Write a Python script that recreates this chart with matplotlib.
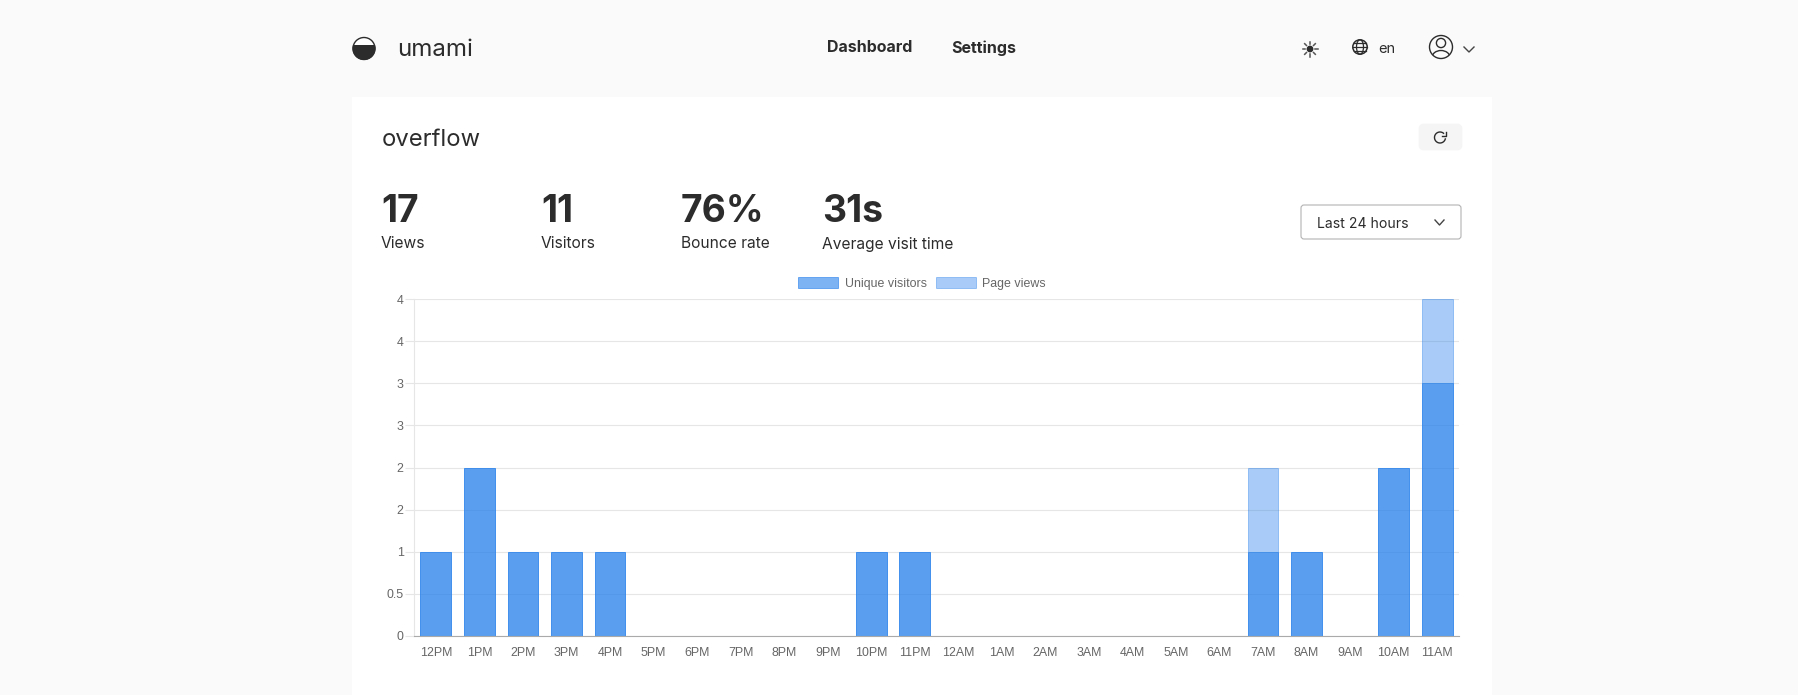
import matplotlib
matplotlib.use('Agg')
import matplotlib.pyplot as plt
from matplotlib.patches import Rectangle, FancyBboxPatch, Circle, Ellipse
import numpy as np

hours = ['12PM','1PM','2PM','3PM','4PM','5PM','6PM','7PM','8PM','9PM','10PM','11PM',
         '12AM','1AM','2AM','3AM','4AM','5AM','6AM','7AM','8AM','9AM','10AM','11AM']
page_views = [1,2,1,1,1,0,0,0,0,0,1,1,0,0,0,0,0,0,0,2,1,0,2,4]
unique_visitors = [1,2,1,1,1,0,0,0,0,0,1,1,0,0,0,0,0,0,0,1,1,0,2,3]
y_ticks = [0,0.5,1,1.5,2,2.5,3,3.5,4]
y_labels = ['0','0.5','1','2','2','3','3','4','4']

stat_values = ['17','11','76%','31s']
stat_names = ['Views','Visitors','Bounce rate','Average visit time']
stat_x = [381,541,681,822]

W, H = 1798, 695
DARK = '#2c2c2c'
plt.rcParams['font.family'] = ['Inter', 'DejaVu Sans']

fig = plt.figure(figsize=(W/100, H/100), dpi=100, facecolor='#fafafa')

# page furniture, drawn in pixel coordinates
bg = fig.add_axes([0,0,1,1])
bg.set_xlim(0,W)
bg.set_ylim(H,0)
bg.axis('off')
bg.add_patch(Rectangle((352,97),1140,598,fc='white',ec='none'))

# logo
bg.add_patch(Circle((364,48.5),11,fc='white',ec=DARK,lw=1))
half = Circle((364,48.5),11.5,fc=DARK,ec='none')
bg.add_patch(half)
half.set_clip_path(Rectangle((350,45),30,20,transform=bg.transData))
bg.text(397,49.5,'umami',fontsize=17.3,color=DARK,va='center')

bg.text(827,48,'Dashboard',fontsize=11.5,fontweight='bold',color=DARK,va='center')
bg.text(951,48,'Settings',fontsize=11.5,fontweight='bold',color=DARK,va='center')

# sun
bg.add_patch(Circle((1310,49),3.4,fc=DARK,ec='none'))
for a in np.arange(0,360,45):
    c, s = np.cos(np.radians(a)), np.sin(np.radians(a))
    bg.plot([1310+5*c,1310+7.5*c],[49+5*s,49+7.5*s],color='#555555',lw=1.1)

# globe
bg.add_patch(Circle((1360,47),7.2,fc='none',ec=DARK,lw=1.1))
bg.add_patch(Ellipse((1360,47),7,14.4,fc='none',ec=DARK,lw=0.9))
bg.plot([1353,1367],[47,47],color=DARK,lw=0.9)
bg.plot([1354,1366],[43,43],color=DARK,lw=0.9)
bg.plot([1354,1366],[51,51],color=DARK,lw=0.9)
bg.text(1378,49,'en',fontsize=10.5,color=DARK,va='center')

# user icon
bg.add_patch(Circle((1441,47),11.5,fc='none',ec=DARK,lw=1))
bg.add_patch(Circle((1441,43),4.6,fc='none',ec=DARK,lw=1))
shoulder = Ellipse((1441,57.5),18,14,fc='none',ec=DARK,lw=1)
bg.add_patch(shoulder)
shoulder.set_clip_path(Circle((1441,47),11.5,transform=bg.transData))
bg.plot([1464,1469,1474],[47,52,47],color='#444444',lw=1)

bg.text(382,140,'overflow',fontsize=17.1,color=DARK,va='center')

# refresh button
bg.add_patch(FancyBboxPatch((1420,125),41,24,boxstyle='round,pad=0,rounding_size=4',fc='#f5f5f5',ec='#f5f5f5',lw=2))
ang = np.radians(np.arange(15,315,5))
bg.plot(1440+5.5*np.cos(ang),137.5+5.5*np.sin(ang),color=DARK,lw=1)
bg.plot([1445.5,1445.5,1441.5],[131.5,136,136],color=DARK,lw=1)

# stats
for x, v, n in zip(stat_x, stat_values, stat_names):
    bg.text(x,211.5,v,fontsize=26.8,fontweight='bold',color=DARK,va='center')
    bg.text(x,244,n,fontsize=11.2,color=DARK,va='center')

# date dropdown
bg.add_patch(FancyBboxPatch((1301,205),160,34,boxstyle='round,pad=0,rounding_size=3',fc='white',ec='#b3b3b3',lw=0.8))
bg.text(1317,224,'Last 24 hours',fontsize=10.1,color=DARK,va='center')
bg.plot([1435,1439.5,1444],[220,225,220],color='#444444',lw=1)

# chart
ax = fig.add_axes([414/W,1-636/H,1045/W,337/H])
ax.patch.set_alpha(0)
ax.set_axisbelow(True)
unique_face = (38/255,128/255,235/255,0.6)
unique_edge = (38/255,128/255,235/255,0.6)
views_face = (38/255,128/255,235/255,0.4)
views_edge = (38/255,128/255,235/255,0.4)
ax.bar(hours,page_views,width=0.705,color=views_face,edgecolor=views_edge,linewidth=0.7,label='Page views')
ax.bar(hours,unique_visitors,width=0.705,color=unique_face,edgecolor=unique_edge,linewidth=0.7,label='Unique visitors')
ax.set_xlim(-0.5,23.5)
ax.set_ylim(0,4)
ax.set_yticks(y_ticks)
ax.set_yticklabels(y_labels)
ax.grid(axis='y',color='#e6e6e6',linewidth=0.8)
ax.tick_params(axis='y',length=6.5,width=0.8,color='#e6e6e6',pad=1,labelsize=8.9,labelcolor='#666666')
ax.tick_params(axis='x',length=0,pad=8,labelsize=8.9,labelcolor='#666666')
for lab in ax.get_xticklabels()+ax.get_yticklabels():
    lab.set_family('Liberation Sans')
for side in ['top','right']:
    ax.spines[side].set_visible(False)
ax.spines['left'].set_color('#e6e6e6')
ax.spines['left'].set_linewidth(0.8)
ax.spines['bottom'].set_color('#aaaaaa')
ax.spines['bottom'].set_linewidth(0.8)

handles, labels = ax.get_legend_handles_labels()
leg = ax.legend(handles[::-1],labels[::-1],ncol=2,loc='lower center',bbox_to_anchor=(0.486,1.027),frameon=False,
                prop={'family':'Liberation Sans','size':8.9},labelcolor='#666666',
                handlelength=3.3,handleheight=0.95,handletextpad=0.5,columnspacing=0.72,borderaxespad=0,borderpad=0)

fig.savefig('out.png',dpi=100,facecolor=fig.get_facecolor())
